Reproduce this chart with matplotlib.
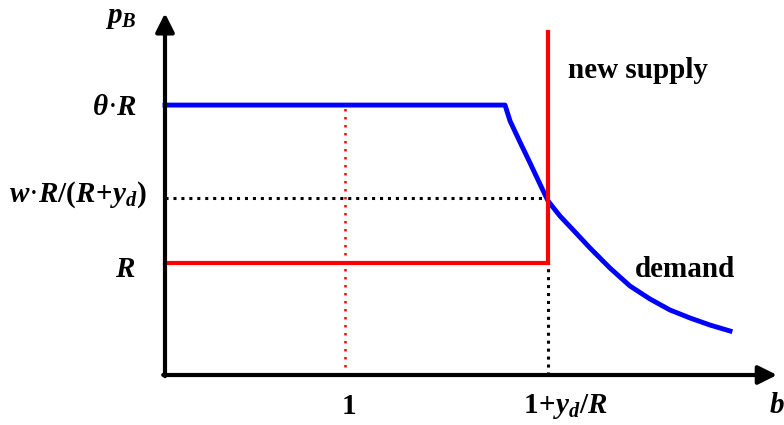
import numpy as np
import matplotlib.pyplot as plt

plt.rcParams['mathtext.fontset'] = 'custom'
plt.rcParams['mathtext.rm'] = 'Liberation Serif:bold'
plt.rcParams['mathtext.it'] = 'Liberation Serif:bold:italic'
plt.rcParams['mathtext.bf'] = 'Liberation Serif:bold'
plt.rcParams['font.family'] = ['Liberation Serif', 'DejaVu Sans']

# levels (R = 1)
R = 1.0
theta_R = 2.41
w_level = 1.58
b_one = 1.0
b_kink = 2.128
supply_top = 3.06

# demand curve
demand_x = [0.0, 1.889, 1.917, 1.972, 2.028, 2.083, 2.128, 2.194, 2.278, 2.361,
            2.472, 2.583, 2.694, 2.806, 2.917, 3.028, 3.139]
demand_y = [theta_R, 2.41, 2.268, 2.080, 1.893, 1.705, 1.554, 1.420, 1.277, 1.134,
            0.955, 0.795, 0.679, 0.580, 0.509, 0.446, 0.393]

# new supply
supply_x = [0.0, b_kink, b_kink]
supply_y = [R, R, supply_top]

fig = plt.figure(figsize=(7.84, 4.25), dpi=100)
ax = fig.add_axes([0, 0, 1, 1])
ax.set_xlim(-165 / 180, 619 / 180)
ax.set_ylim(-50 / 112, 375 / 112)
ax.axis('off')

# axes with arrows
ax.annotate('', xy=(3.40, 0), xytext=(-0.01, 0),
            arrowprops=dict(arrowstyle='-|>', lw=3, color='black', mutation_scale=28, shrinkA=0, shrinkB=0))
ax.annotate('', xy=(0, 3.23), xytext=(0, -0.01),
            arrowprops=dict(arrowstyle='-|>', lw=3, color='black', mutation_scale=28, shrinkA=0, shrinkB=0))

# guide lines
ax.plot([b_one, b_one], [0, theta_R], color='red', lw=1.8, ls=(0, (1, 2.2)))
ax.plot([0, b_kink], [w_level, w_level], color='black', lw=2.2, ls=(0, (1, 1.6)))
ax.plot([b_kink, b_kink], [0, R], color='black', lw=2.2, ls=(0, (1, 1.6)))

ax.plot(demand_x, demand_y, color='blue', lw=3.5, solid_joinstyle='round')
ax.plot(supply_x, supply_y, color='red', lw=3, solid_joinstyle='miter')

fs = 21
ax.text(-0.244, 3.19, r'$p_B$', fontsize=fs, ha='center', va='center')
ax.text(-0.156, 2.384, r'$\theta$·$R$', fontsize=fs, ha='right', va='center')
ax.text(-0.10, 1.607, r'$w$·$R/(R\!+\!y_d)$', fontsize=fs, ha='right', va='center')
ax.text(-0.167, 0.9375, r'$R$', fontsize=fs, ha='right', va='center')
ax.text(1.022, -0.277, '1', fontsize=fs, fontweight='bold', ha='center', va='center')
ax.text(2.222, -0.277, r'$1\!+\!y_d/R$', fontsize=fs, ha='center', va='center')
ax.text(3.397, -0.277, r'$b$', fontsize=fs, ha='center', va='center')
ax.text(2.239, 2.723, 'new supply', fontsize=fs, fontweight='bold', ha='left', va='center')
ax.text(2.611, 0.946, 'demand', fontsize=fs, fontweight='bold', ha='left', va='center')

fig.savefig('out.png', dpi=100)
